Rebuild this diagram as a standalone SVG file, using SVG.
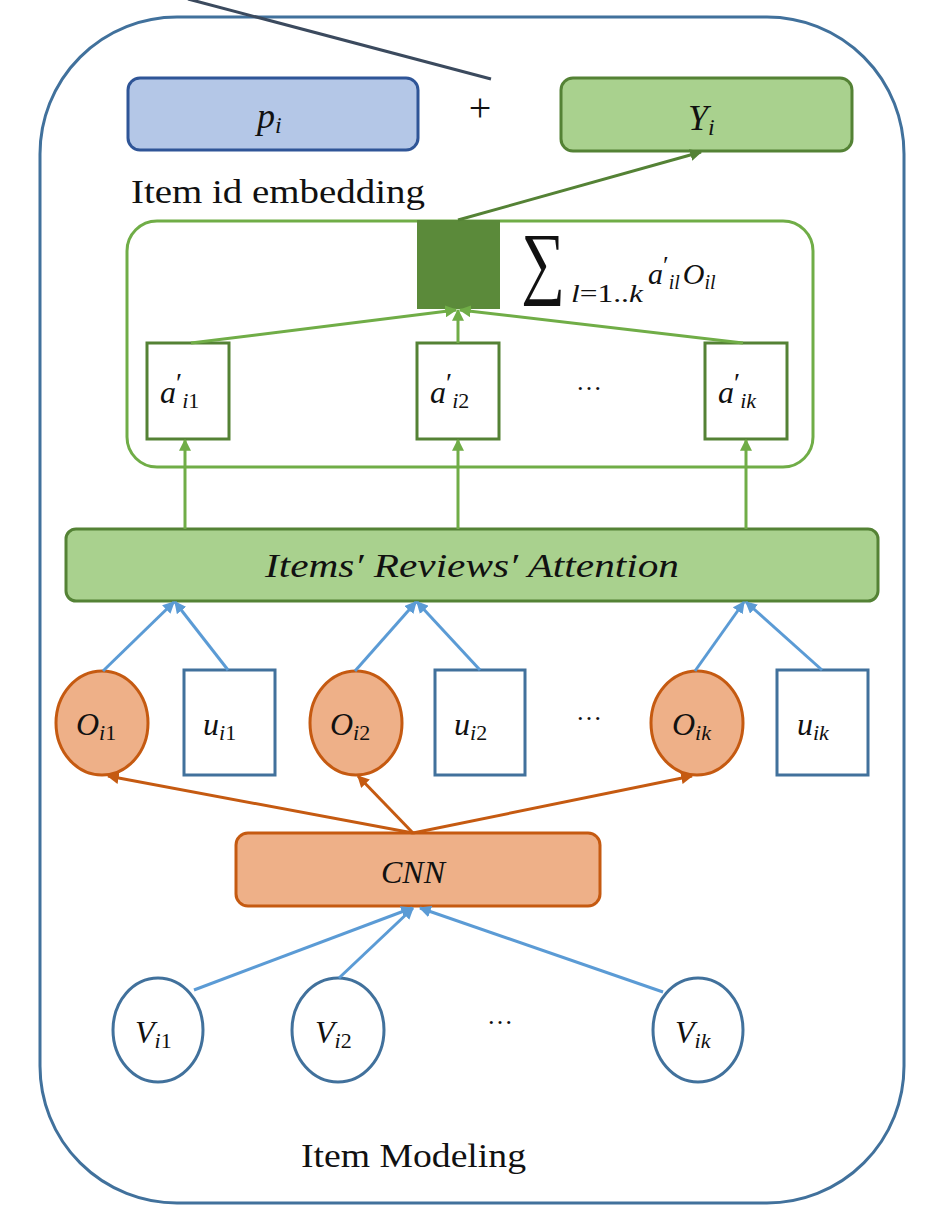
<svg xmlns="http://www.w3.org/2000/svg" width="936" height="1226" viewBox="0 0 936 1226">
<defs>
<style>
.m{font-family:"Liberation Serif","DejaVu Serif",serif;font-style:italic;fill:#111;}
.s{font-family:"Liberation Serif","DejaVu Serif",serif;font-style:normal;fill:#111;}
.lbl{font-family:"Liberation Serif","DejaVu Serif",serif;fill:#111;}
.g{stroke:#70ad47;stroke-width:3;fill:none;}
.b{stroke:#5b9bd5;stroke-width:3;fill:none;}
.o{stroke:#c55a11;stroke-width:3;fill:none;}
.up{font-style:normal;}
</style>
<marker id="ag" viewBox="0 0 10 10" refX="9" refY="5" markerWidth="4" markerHeight="4" orient="auto"><path d="M0,0L10,5L0,10z" fill="#70ad47"/></marker>
<marker id="adg" viewBox="0 0 10 10" refX="9" refY="5" markerWidth="4" markerHeight="4" orient="auto"><path d="M0,0L10,5L0,10z" fill="#548235"/></marker>
<marker id="ab" viewBox="0 0 10 10" refX="9" refY="5" markerWidth="4" markerHeight="4" orient="auto"><path d="M0,0L10,5L0,10z" fill="#5b9bd5"/></marker>
<marker id="ao" viewBox="0 0 10 10" refX="9" refY="5" markerWidth="4" markerHeight="4" orient="auto"><path d="M0,0L10,5L0,10z" fill="#c55a11"/></marker>
</defs>
<rect width="936" height="1226" fill="#fff"/>
<g id="outer">
<rect x="40" y="17" width="864" height="1186" rx="137" ry="137" fill="none" stroke="#41719c" stroke-width="3"/>
<text class="lbl" x="301" y="1167" font-size="34" textLength="225" lengthAdjust="spacingAndGlyphs">Item Modeling</text>
</g>
<line x1="188" y1="-1" x2="491" y2="79" stroke="#3b4a5e" stroke-width="3"/>
<g id="pi">
<rect x="128" y="78" width="290" height="72" rx="12" fill="#b4c7e7" stroke="#2f5597" stroke-width="3"/>
<text class="m" x="257" y="128" font-size="36">p<tspan font-size="24" dy="5">i</tspan></text>
</g>
<text class="s" x="480" y="121" font-size="40" fill="#444" text-anchor="middle">+</text>
<g id="Yi">
<rect x="561" y="78" width="291" height="73" rx="12" fill="#a9d18e" stroke="#548235" stroke-width="3"/>
<text class="m" x="688" y="130" font-size="36">Y<tspan font-size="24" dy="5">i</tspan></text>
</g>
<text class="lbl" x="131" y="203" font-size="34" textLength="294" lengthAdjust="spacingAndGlyphs">Item id embedding</text>
<g id="attn-container">
<rect x="127" y="221" width="686" height="246" rx="30" fill="none" stroke="#70ad47" stroke-width="3"/>
</g>
<g id="sum">
<rect x="417" y="220" width="83" height="89" fill="#5b8a3a"/>
<text class="s" transform="translate(521,289) scale(0.76,1)" font-size="81">∑</text>
<text class="m" x="571" y="302" font-size="25" textLength="72" lengthAdjust="spacingAndGlyphs">l<tspan class="up">=1..</tspan>k</text>
<text class="m" x="648" y="284" font-size="30">a<tspan class="up" font-size="26" dy="-10">′</tspan><tspan font-size="20" dy="15">il</tspan><tspan dy="-5" dx="3">O</tspan><tspan font-size="20" dy="5">il</tspan></text>
</g>
<g id="a1">
<rect x="147" y="343" width="82" height="96" fill="#fff" stroke="#548235" stroke-width="3"/>
<text class="m" x="160" y="403" font-size="32">a<tspan class="up" font-size="28" dy="-11">′</tspan><tspan font-size="22" dy="16">i</tspan><tspan class="up" font-size="22">1</tspan></text>
</g>
<g id="a2">
<rect x="417" y="343" width="82" height="96" fill="#fff" stroke="#548235" stroke-width="3"/>
<text class="m" x="430" y="403" font-size="32">a<tspan class="up" font-size="28" dy="-11">′</tspan><tspan font-size="22" dy="16">i</tspan><tspan class="up" font-size="22">2</tspan></text>
</g>
<text class="s" x="589" y="390" font-size="26" text-anchor="middle">…</text>
<g id="ak">
<rect x="705" y="343" width="82" height="96" fill="#fff" stroke="#548235" stroke-width="3"/>
<text class="m" x="718" y="403" font-size="32">a<tspan class="up" font-size="28" dy="-11">′</tspan><tspan font-size="22" dy="16">ik</tspan></text>
</g>
<g id="attention">
<rect x="66" y="529" width="812" height="72" rx="10" fill="#a9d18e" stroke="#548235" stroke-width="3"/>
<text class="m" x="265" y="577" font-size="33" textLength="414" lengthAdjust="spacingAndGlyphs">Items′ Reviews′ Attention</text>
</g>
<g id="O1">
<ellipse cx="102" cy="723" rx="46" ry="52" fill="#eeb088" stroke="#c55a11" stroke-width="3"/>
<text class="m" x="76" y="735" font-size="32">O<tspan font-size="22" dy="5">i</tspan><tspan class="up" font-size="22">1</tspan></text>
</g>
<g id="u1">
<rect x="184" y="670" width="91" height="105" fill="#fff" stroke="#41719c" stroke-width="3"/>
<text class="m" x="203" y="735" font-size="32">u<tspan font-size="22" dy="5">i</tspan><tspan class="up" font-size="22">1</tspan></text>
</g>
<g id="O2">
<ellipse cx="356" cy="723" rx="46" ry="52" fill="#eeb088" stroke="#c55a11" stroke-width="3"/>
<text class="m" x="330" y="735" font-size="32">O<tspan font-size="22" dy="5">i</tspan><tspan class="up" font-size="22">2</tspan></text>
</g>
<g id="u2">
<rect x="435" y="670" width="90" height="105" fill="#fff" stroke="#41719c" stroke-width="3"/>
<text class="m" x="454" y="735" font-size="32">u<tspan font-size="22" dy="5">i</tspan><tspan class="up" font-size="22">2</tspan></text>
</g>
<text class="s" x="589" y="720" font-size="26" text-anchor="middle">…</text>
<g id="Ok">
<ellipse cx="697" cy="723" rx="46" ry="52" fill="#eeb088" stroke="#c55a11" stroke-width="3"/>
<text class="m" x="672" y="735" font-size="32">O<tspan font-size="22" dy="5">ik</tspan></text>
</g>
<g id="uk">
<rect x="777" y="670" width="91" height="105" fill="#fff" stroke="#41719c" stroke-width="3"/>
<text class="m" x="797" y="735" font-size="32">u<tspan font-size="22" dy="5">ik</tspan></text>
</g>
<g id="CNN">
<rect x="236" y="833" width="364" height="73" rx="12" fill="#eeb088" stroke="#c55a11" stroke-width="3"/>
<text class="m" x="413" y="883" font-size="32" text-anchor="middle">CNN</text>
</g>
<g id="V1">
<ellipse cx="158" cy="1030" rx="45" ry="52" fill="#fff" stroke="#41719c" stroke-width="3"/>
<text class="m" x="135" y="1043" font-size="32">V<tspan font-size="22" dy="5">i</tspan><tspan class="up" font-size="22">1</tspan></text>
</g>
<g id="V2">
<ellipse cx="338" cy="1030" rx="46" ry="52" fill="#fff" stroke="#41719c" stroke-width="3"/>
<text class="m" x="315" y="1043" font-size="32">V<tspan font-size="22" dy="5">i</tspan><tspan class="up" font-size="22">2</tspan></text>
</g>
<text class="s" x="500" y="1024" font-size="26" text-anchor="middle">…</text>
<g id="Vk">
<ellipse cx="698" cy="1030" rx="45" ry="52" fill="#fff" stroke="#41719c" stroke-width="3"/>
<text class="m" x="675" y="1043" font-size="32">V<tspan font-size="22" dy="5">ik</tspan></text>
</g>
<g id="connectors">
<line x1="458" y1="220" x2="701" y2="152" stroke="#548235" stroke-width="3" marker-end="url(#adg)"/>
<line class="g" x1="191" y1="343" x2="456" y2="310" marker-end="url(#ag)"/>
<line class="g" x1="458" y1="343" x2="458" y2="310" marker-end="url(#ag)"/>
<line class="g" x1="743" y1="343" x2="460" y2="310" marker-end="url(#ag)"/>
<line class="g" x1="185" y1="529" x2="185" y2="440" marker-end="url(#ag)"/>
<line class="g" x1="458" y1="529" x2="458" y2="440" marker-end="url(#ag)"/>
<line class="g" x1="746" y1="529" x2="746" y2="440" marker-end="url(#ag)"/>
<line class="b" x1="103" y1="671" x2="174" y2="602" marker-end="url(#ab)"/>
<line class="b" x1="228" y1="670" x2="175" y2="602" marker-end="url(#ab)"/>
<line class="b" x1="355" y1="671" x2="416" y2="602" marker-end="url(#ab)"/>
<line class="b" x1="480" y1="670" x2="417" y2="602" marker-end="url(#ab)"/>
<line class="b" x1="695" y1="671" x2="744" y2="602" marker-end="url(#ab)"/>
<line class="b" x1="822" y1="670" x2="746" y2="602" marker-end="url(#ab)"/>
<line class="o" x1="413" y1="833" x2="108" y2="776" marker-end="url(#ao)"/>
<line class="o" x1="413" y1="833" x2="358" y2="776" marker-end="url(#ao)"/>
<line class="o" x1="413" y1="833" x2="692" y2="776" marker-end="url(#ao)"/>
<line class="b" x1="194" y1="990" x2="412" y2="908" marker-end="url(#ab)"/>
<line class="b" x1="339" y1="978" x2="413" y2="908" marker-end="url(#ab)"/>
<line class="b" x1="663" y1="992" x2="420" y2="908" marker-end="url(#ab)"/>
</g>
</svg>
